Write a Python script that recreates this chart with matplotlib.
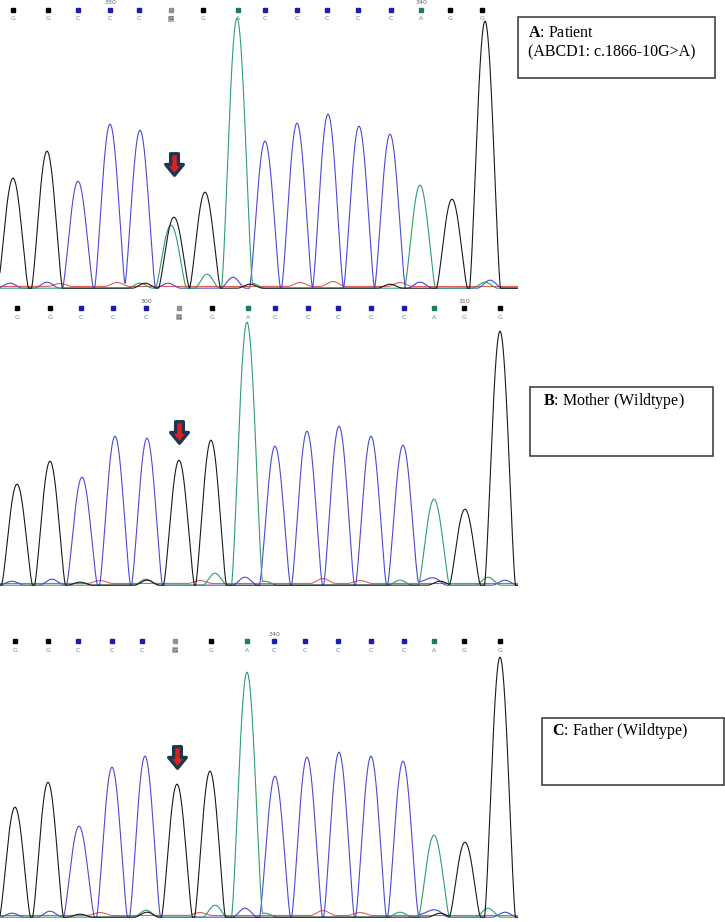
import matplotlib
matplotlib.use('Agg')
import matplotlib.pyplot as plt
from matplotlib.path import Path
from matplotlib.patches import Rectangle
import numpy as np

plt.rcParams['mathtext.fontset'] = 'custom'
plt.rcParams['mathtext.rm'] = 'Liberation Serif'
plt.rcParams['mathtext.bf'] = 'Liberation Serif:bold'

# Base calls (same sequence in all three traces)
bases = list("GGCCCGGACCCCCAGG")
highlight_idx = 5

# Panel A: patient
call_x_a = [13, 48, 78, 110, 139, 171, 203, 238, 265, 297, 327, 358, 391, 421, 450, 482]
peak_x_a = [13, 47, 78, 110, 140, 174, 205, 237, 265, 297, 328, 359, 390, 420, 452, 485]
peak_h_a = [110, 137, 107, 164, 158, 71, 96, 270, 147, 165, 174, 162, 154, 103, 89, 267]
extra_a = [("A", 171, 63)]
ticks_a = {3: "330", 13: "340"}

# Panel B: mother
call_x_b = [17, 50, 81, 113, 146, 179, 212, 248, 275, 308, 338, 371, 404, 434, 464, 500]
peak_x_b = [17, 50, 82, 115, 147, 179, 211, 247, 275, 307, 339, 371, 403, 434, 465, 500]
peak_h_b = [101, 124, 108, 149, 147, 125, 145, 263, 139, 154, 159, 149, 140, 86, 76, 254]
extra_b = []
ticks_b = {4: "300", 14: "310"}

# Panel C: father
call_x_c = [15, 48, 78, 112, 142, 175, 211, 247, 274, 305, 338, 371, 404, 434, 464, 500]
peak_x_c = [15, 48, 79, 112, 145, 177, 210, 247, 275, 307, 339, 371, 403, 434, 465, 500]
peak_h_c = [110, 135, 91, 150, 161, 133, 146, 245, 141, 160, 165, 161, 156, 82, 75, 260]
extra_c = []
ticks_c = {8: "340"}

# small background bumps (channel, position, height)
minor_a = [("C", 10, 5), ("C", 47, 6), ("A", 140, 5), ("C", 168, 5), ("A", 207, 14),
           ("C", 233, 11), ("A", 252, 5), ("G", 250, 4), ("C", 420, 6), ("A", 485, 6),
           ("C", 490, 8), ("T", 117, 4), ("T", 300, 4), ("T", 333, 5), ("T", 60, 3),
           ("T", 400, 4), ("G", 145, 5), ("G", 390, 4)]
minor_b = [("C", 12, 4), ("C", 52, 6), ("G", 80, 3), ("A", 146, 6), ("A", 215, 12),
           ("C", 245, 8), ("A", 265, 4), ("T", 323, 5), ("T", 360, 3), ("A", 400, 5),
           ("C", 423, 4), ("C", 434, 7), ("A", 488, 8), ("C", 505, 5), ("G", 147, 5),
           ("T", 100, 3), ("T", 200, 3), ("G", 440, 4)]
minor_c = [("C", 12, 4), ("C", 50, 6), ("G", 80, 3), ("A", 146, 7), ("A", 215, 12),
           ("C", 245, 9), ("A", 265, 4), ("T", 323, 5), ("T", 360, 3), ("A", 400, 5),
           ("C", 425, 4), ("C", 436, 7), ("A", 488, 9), ("C", 505, 5), ("G", 147, 5),
           ("T", 100, 3), ("T", 200, 3), ("G", 440, 4)]

arrow_pos = [(174, 125), (179, 154), (177, 161)]

box_texts = [r"$\mathbf{A}$: Patient" + "\n(ABCD1: c.1866-10G>A)",
             r"$\mathbf{B}$: Mother (Wildtype)",
             r"$\mathbf{C}$: Father (Wildtype)"]

trace_col = {"G": "#1a1a1a", "C": "#4a4ad6", "A": "#2f9e6c", "T": "#e0605a"}
call_col = {"G": "#000000", "C": "#1c1cb0", "A": "#1e7a58", "T": "#c02020"}
label_col = {"G": "#808080", "C": "#6a6ad0", "A": "#4a9a7a", "T": "#d06060"}

W, H = 725, 922
fig = plt.figure(figsize=(W / 100, H / 100), dpi=100)

xs = np.linspace(0, 518, 2073)
half_w = 15.5


def lobe(x0, h, w, p=1.4):
    d = np.abs(xs - x0)
    return h * np.cos(np.pi * np.clip(d / w, 0, 1) / 2) ** p


# arrow marker
arrow_path = Path([(-0.36, 1), (0.36, 1), (0.36, 0.0), (0.82, 0.0), (0, -1),
                   (-0.82, 0.0), (-0.36, 0.0), (-0.36, 1)],
                  [Path.MOVETO] + [Path.LINETO] * 6 + [Path.CLOSEPOLY])

panels = [
    (0, 292, 289, call_x_a, peak_x_a, peak_h_a, extra_a, minor_a, ticks_a),
    (297, 590, 586, call_x_b, peak_x_b, peak_h_b, extra_b, minor_b, ticks_b),
    (630, 922, 918, call_x_c, peak_x_c, peak_h_c, extra_c, minor_c, ticks_c),
]

for i, (top, bot, base, cx, px, ph, extra, minor, ticks) in enumerate(panels):
    ax = fig.add_axes([0, (H - bot) / H, 518 / W, (bot - top) / H])
    ax.set_xlim(0, 518)
    ax.set_ylim(-(bot - base), base - top)
    ax.axis("off")

    main = [(b, x, h) for b, x, h in zip(bases, px, ph)] + extra
    for ch in ["T", "C", "A", "G"]:
        y = np.zeros_like(xs) + (2.5 if ch == "T" else 0.8)
        for b, x, h in main:
            if b == ch:
                y += lobe(x, h, half_w)
        for b, x, h in minor:
            if b == ch:
                y += lobe(x, h, 13, 2)
        ax.plot(xs, y, color=trace_col[ch], lw=0.8)

    # base call row
    my = base - (top + 10 if i == 0 else top + 11)
    for j, (b, x) in enumerate(zip(bases, cx)):
        mc = "#909090" if j == highlight_idx else call_col[b]
        ax.plot(x, my, marker="s", ms=3.2, color=mc, mec=mc, clip_on=False)
        if j == highlight_idx:
            ax.text(x, my - 9, b, fontsize=4.5, color="#404040", ha="center", va="center",
                    bbox=dict(boxstyle="square,pad=0.1", fc="#b0b0b0", ec="none"))
        else:
            ax.text(x, my - 9, b, fontsize=4.5, color=label_col[b], ha="center", va="center")
        if j in ticks:
            ax.text(x, my + 7, ticks[j], fontsize=4.5, color="#606060", ha="center", va="center")

    ax.plot(arrow_pos[i][0], arrow_pos[i][1], marker=arrow_path, ms=15.5, mfc="#e02020",
            mec="#1f3550", mew=2.4, clip_on=False)

# label boxes (figure pixels)
boxes = [(518, 17, 715, 78), (530, 387, 713, 456), (542, 718, 724, 785)]
text_pos = [(528, 37), (543, 405), (552, 735)]
for (x0, y0, x1, y1), (tx, ty), label in zip(boxes, text_pos, box_texts):
    fig.patches.append(Rectangle((x0 / W, 1 - y1 / H), (x1 - x0) / W, (y1 - y0) / H,
                                 transform=fig.transFigure, fill=False, ec="#333333", lw=1.1))
    lines = label.split("\n")
    for k, line in enumerate(lines):
        fig.text(tx / W, 1 - (ty + 19 * k) / H, line, fontsize=11.5,
                 family="Liberation Serif", va="baseline", ha="left")

fig.savefig("out.png", dpi=100)
